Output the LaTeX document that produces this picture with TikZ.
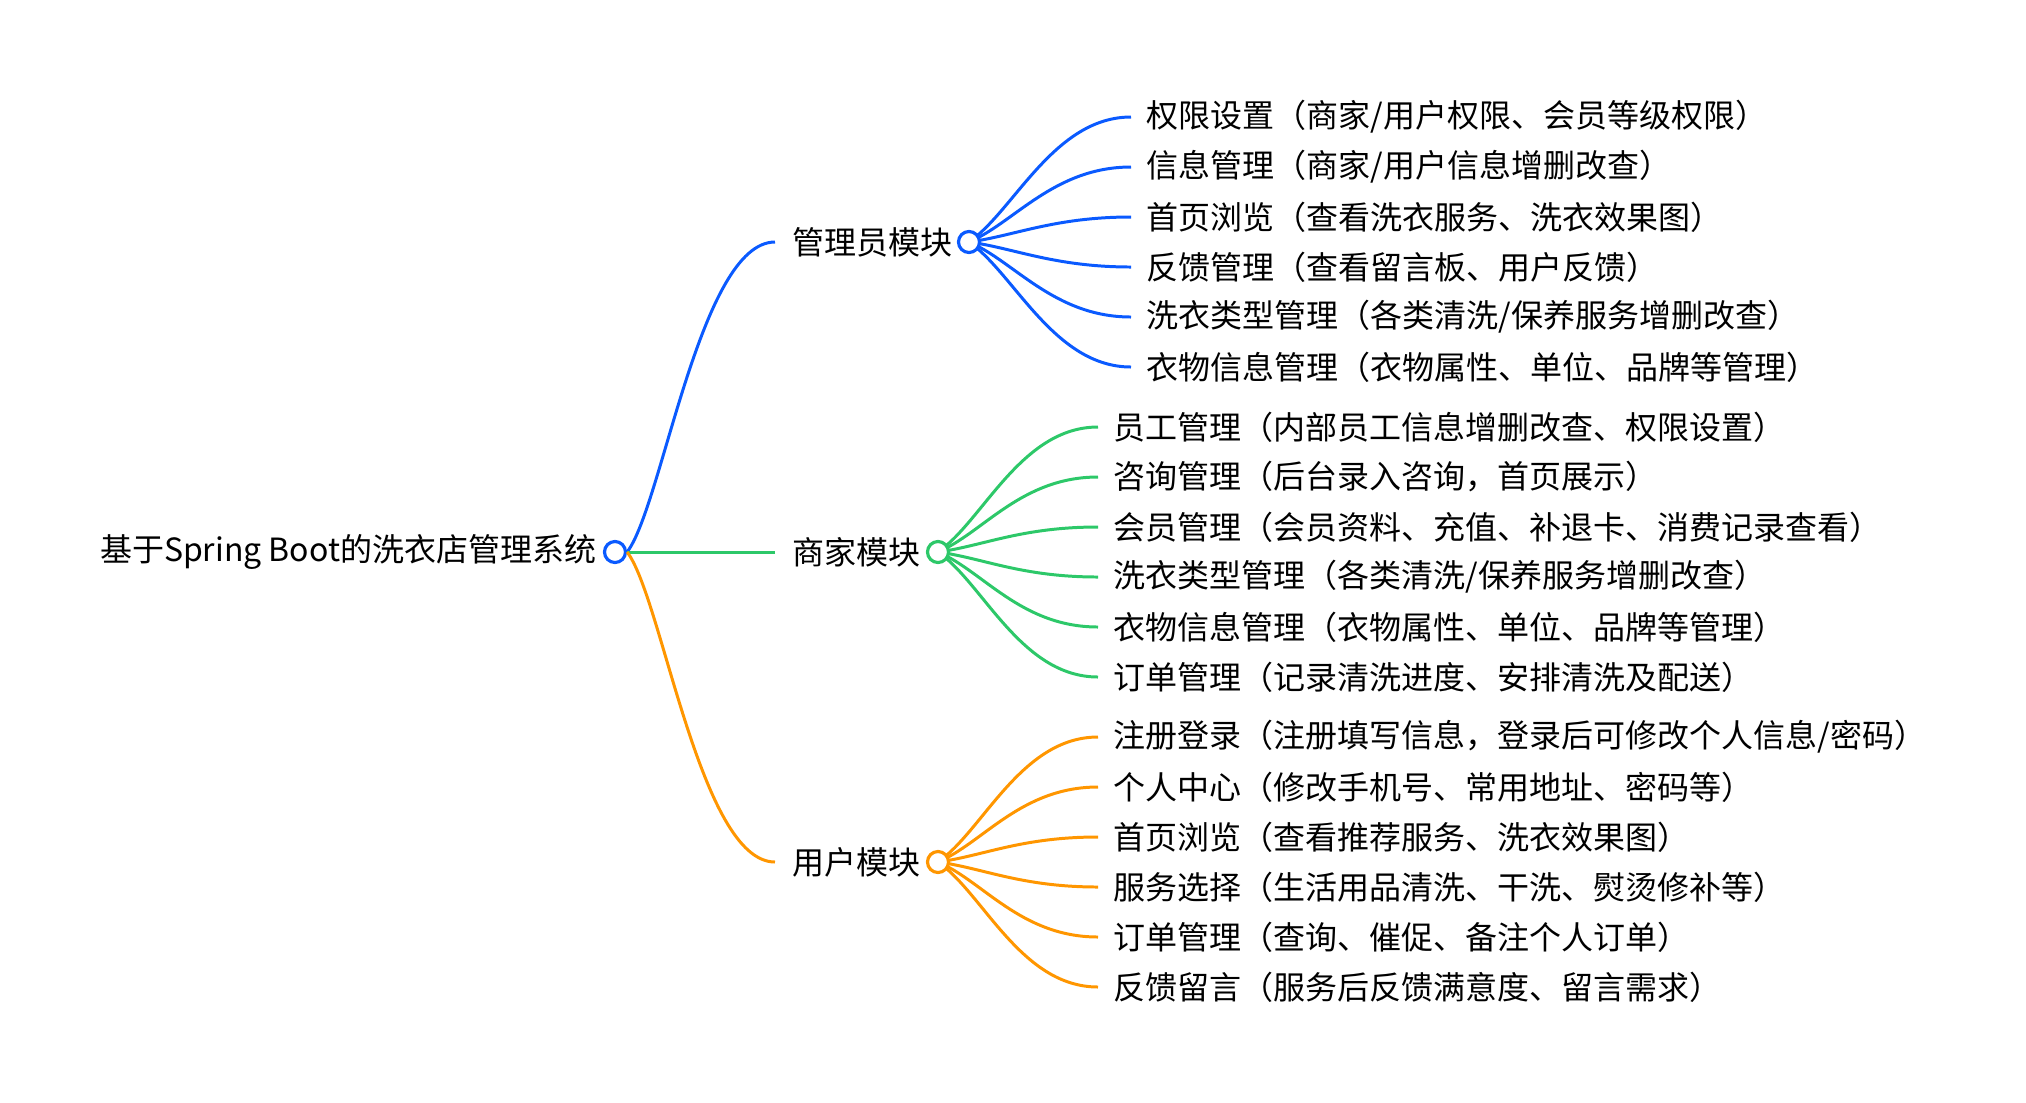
\documentclass[tikz,border=0pt]{standalone}
\usepackage{fontspec}
\setmainfont{Noto Sans CJK SC}
\usepackage{tikz}

\definecolor{admblue}{RGB}{10,90,255}
\definecolor{shopgreen}{RGB}{45,200,105}
\definecolor{userorange}{RGB}{255,150,0}

\begin{document}
\begin{tikzpicture}[x=0.01cm, y=-0.01cm, font=\fontsize{9.1}{10}\selectfont,
  dot/.style={circle, draw, line width=0.9pt, minimum size=0.21cm, inner sep=0pt, fill=white},
  branch/.style={anchor=west, inner xsep=0.17cm},
  leaf/.style={anchor=west, inner xsep=0.15cm},
  link/.style={line width=0.85pt}]
  \useasboundingbox (0,0) rectangle (2026,1102);

  % root
  \node[dot, draw=admblue] (root) at (615,552) {};
  \node[anchor=east, inner xsep=0.06cm] (title) at (root.west) {基于Spring Boot的洗衣店管理系统};

  % modules
  \node[branch] (admin) at (775,242) {管理员模块};
  \node[branch] (shop) at (775,552) {商家模块};
  \node[branch] (user) at (775,862) {用户模块};
  \draw[link, admblue] (root.east) .. controls +(35,-45) and +(-75,0) .. (admin.west);
  \draw[link, shopgreen] (root.east) -- (shop.west);
  \draw[link, userorange] (root.east) .. controls +(35,45) and +(-75,0) .. (user.west);

  % admin leaves
  \node[leaf] (a1) at (1131,117) {权限设置（商家/用户权限、会员等级权限）};
  \node[leaf] (a2) at (1131,167) {信息管理（商家/用户信息增删改查）};
  \node[leaf] (a3) at (1131,217) {首页浏览（查看洗衣服务、洗衣效果图）};
  \node[leaf] (a4) at (1131,267) {反馈管理（查看留言板、用户反馈）};
  \node[leaf] (a5) at (1131,317) {洗衣类型管理（各类清洗/保养服务增删改查）};
  \node[leaf] (a6) at (1131,367) {衣物信息管理（衣物属性、单位、品牌等管理）};
  \draw[link, admblue] (969,242) .. controls +(45,-31) and +(-77,0) .. (a1.west);
  \draw[link, admblue] (969,242) .. controls +(45,-19) and +(-77,0) .. (a2.west);
  \draw[link, admblue] (969,242) .. controls +(45,-6) and +(-77,0) .. (a3.west);
  \draw[link, admblue] (969,242) .. controls +(45,6) and +(-77,0) .. (a4.west);
  \draw[link, admblue] (969,242) .. controls +(45,19) and +(-77,0) .. (a5.west);
  \draw[link, admblue] (969,242) .. controls +(45,31) and +(-77,0) .. (a6.west);
  \node[dot, draw=admblue] (adminc) at (969,242) {};

  % shop leaves
  \node[leaf] (s1) at (1098,427) {员工管理（内部员工信息增删改查、权限设置）};
  \node[leaf] (s2) at (1098,477) {咨询管理（后台录入咨询，首页展示）};
  \node[leaf] (s3) at (1098,527) {会员管理（会员资料、充值、补退卡、消费记录查看）};
  \node[leaf] (s4) at (1098,577) {洗衣类型管理（各类清洗/保养服务增删改查）};
  \node[leaf] (s5) at (1098,627) {衣物信息管理（衣物属性、单位、品牌等管理）};
  \node[leaf] (s6) at (1098,677) {订单管理（记录清洗进度、安排清洗及配送）};
  \draw[link, shopgreen] (938,552) .. controls +(45,-31) and +(-77,0) .. (s1.west);
  \draw[link, shopgreen] (938,552) .. controls +(45,-19) and +(-77,0) .. (s2.west);
  \draw[link, shopgreen] (938,552) .. controls +(45,-6) and +(-77,0) .. (s3.west);
  \draw[link, shopgreen] (938,552) .. controls +(45,6) and +(-77,0) .. (s4.west);
  \draw[link, shopgreen] (938,552) .. controls +(45,19) and +(-77,0) .. (s5.west);
  \draw[link, shopgreen] (938,552) .. controls +(45,31) and +(-77,0) .. (s6.west);
  \node[dot, draw=shopgreen] (shopc) at (938,552) {};

  % user leaves
  \node[leaf] (u1) at (1098,737) {注册登录（注册填写信息，登录后可修改个人信息/密码）};
  \node[leaf] (u2) at (1098,787) {个人中心（修改手机号、常用地址、密码等）};
  \node[leaf] (u3) at (1098,837) {首页浏览（查看推荐服务、洗衣效果图）};
  \node[leaf] (u4) at (1098,887) {服务选择（生活用品清洗、干洗、熨烫修补等）};
  \node[leaf] (u5) at (1098,937) {订单管理（查询、催促、备注个人订单）};
  \node[leaf] (u6) at (1098,987) {反馈留言（服务后反馈满意度、留言需求）};
  \draw[link, userorange] (938,862) .. controls +(45,-31) and +(-77,0) .. (u1.west);
  \draw[link, userorange] (938,862) .. controls +(45,-19) and +(-77,0) .. (u2.west);
  \draw[link, userorange] (938,862) .. controls +(45,-6) and +(-77,0) .. (u3.west);
  \draw[link, userorange] (938,862) .. controls +(45,6) and +(-77,0) .. (u4.west);
  \draw[link, userorange] (938,862) .. controls +(45,19) and +(-77,0) .. (u5.west);
  \draw[link, userorange] (938,862) .. controls +(45,31) and +(-77,0) .. (u6.west);
  \node[dot, draw=userorange] (userc) at (938,862) {};
\end{tikzpicture}
\end{document}
